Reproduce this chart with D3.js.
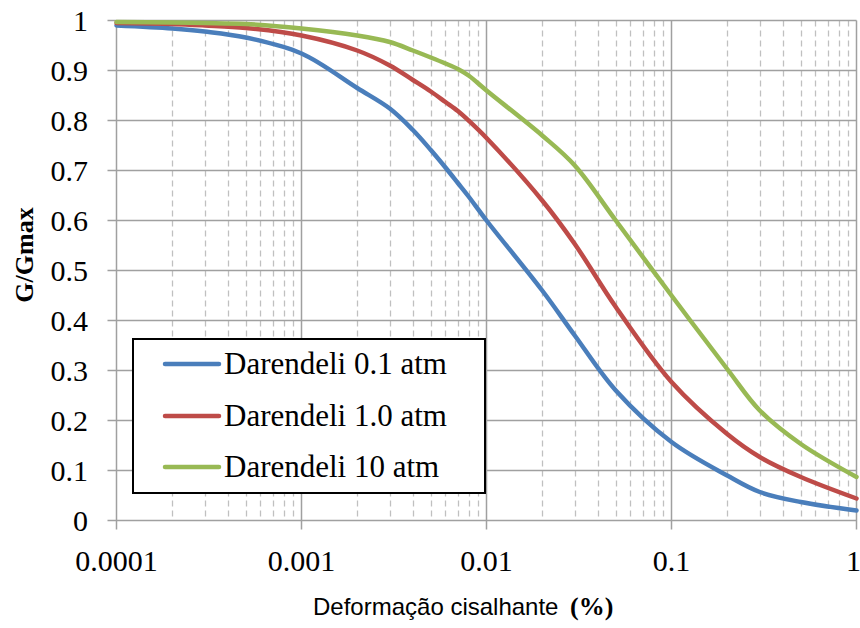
<!DOCTYPE html>
<html><head><meta charset="utf-8">
<script src="https://cdn.jsdelivr.net/npm/d3@7"></script>
<style>body{margin:0;background:#fff}</style>
</head><body>
<svg id="c" width="860" height="628"></svg>
<script>
const strain = [0.0001,0.0002,0.0003,0.0005,0.001,0.002,0.003,0.004,0.005,0.006,0.007,0.008,0.01,0.02,0.03,0.05,0.1,0.2,0.3,0.5,1];
const darendeli01 = [0.99,0.984,0.978,0.966,0.934,0.865,0.824,0.781,0.741,0.706,0.675,0.648,0.6,0.46,0.37,0.26,0.157,0.09,0.057,0.037,0.02];
const darendeli10 = [0.995,0.993,0.99,0.985,0.97,0.94,0.91,0.881,0.858,0.837,0.819,0.80,0.765,0.64,0.553,0.427,0.277,0.173,0.127,0.087,0.044];
const darendeli100 = [0.997,0.996,0.995,0.993,0.984,0.97,0.957,0.94,0.926,0.914,0.903,0.89,0.86,0.77,0.71,0.6,0.45,0.303,0.22,0.153,0.087];
const seriesNames = ["Darendeli 0.1 atm","Darendeli 1.0 atm","Darendeli 10 atm"];
const seriesValues = [darendeli01, darendeli10, darendeli100];
const seriesColors = ["#4a7ebb","#be4b48","#98b954"];
const xTicks = [0.0001,0.001,0.01,0.1,1];
const xTickLabels = ["0.0001","0.001","0.01","0.1","1"];
const yTicks = [0,0.1,0.2,0.3,0.4,0.5,0.6,0.7,0.8,0.9,1];
const yTickLabels = ["0","0.1","0.2","0.3","0.4","0.5","0.6","0.7","0.8","0.9","1"];

const svg = d3.select("#c");
const L=116.5, R=856.5, T=20.5, B=520.5;
const x = d3.scaleLog().domain([0.0001,1]).range([L,R]);
const y = d3.scaleLinear().domain([0,1]).range([B,T]);

// minor dashed vertical gridlines
const minors = [];
for (let d=-4; d<0; d++) for (let k=2;k<=9;k++) minors.push(k*Math.pow(10,d));
svg.append("g").selectAll("line").data(minors).join("line")
  .attr("x1",d=>Math.round(x(d))+0.5).attr("x2",d=>Math.round(x(d))+0.5)
  .attr("y1",T).attr("y2",B)
  .attr("stroke","#c0c0c0").attr("stroke-width",1.3).attr("stroke-dasharray","6,4");

// horizontal gridlines (with tick extension to the left)
svg.append("g").selectAll("line").data(yTicks).join("line")
  .attr("x1",L-9).attr("x2",R)
  .attr("y1",d=>y(d)).attr("y2",d=>y(d))
  .attr("stroke","#a0a0a0").attr("stroke-width",1.5);

// major vertical gridlines (with tick extension downward)
svg.append("g").selectAll("line").data(xTicks).join("line")
  .attr("x1",d=>x(d)).attr("x2",d=>x(d))
  .attr("y1",T).attr("y2",B+9)
  .attr("stroke","#a0a0a0").attr("stroke-width",1.5);

// tick labels
svg.append("g").selectAll("text").data(yTicks).join("text")
  .attr("x",88).attr("y",d=>y(d)).attr("dy","0.35em")
  .attr("text-anchor","end")
  .attr("font-family","Liberation Serif, Times New Roman, serif").attr("font-size",30)
  .text((d,i)=>yTickLabels[i]);
svg.append("g").selectAll("text").data(xTicks).join("text")
  .attr("x",(d,i)=>i===xTicks.length-1 ? x(d)-3 : x(d)).attr("y",571)
  .attr("text-anchor","middle")
  .attr("font-family","Liberation Serif, Times New Roman, serif").attr("font-size",30)
  .text((d,i)=>xTickLabels[i]);

// lines
const line = d3.line().x(d=>x(d[0])).y(d=>y(d[1])).curve(d3.curveCatmullRom.alpha(0.5));
seriesValues.forEach((vals,i)=>{
  svg.append("path").datum(strain.map((s,j)=>[s,vals[j]]))
    .attr("d",line).attr("fill","none")
    .attr("stroke",seriesColors[i]).attr("stroke-width",4.5)
    .attr("stroke-linejoin","round").attr("stroke-linecap","round");
});

// legend
const lg = svg.append("g");
lg.append("rect").attr("x",133).attr("y",339).attr("width",352).attr("height",154)
  .attr("fill","#fff").attr("stroke","#000").attr("stroke-width",2);
const legY = [364,416,467];
seriesNames.forEach((n,i)=>{
  lg.append("line").attr("x1",165).attr("x2",219).attr("y1",legY[i]).attr("y2",legY[i])
    .attr("stroke",seriesColors[i]).attr("stroke-width",4.5).attr("stroke-linecap","round");
  lg.append("text").attr("x",224).attr("y",legY[i]+10)
    .attr("font-family","Liberation Serif, Times New Roman, serif").attr("font-size",31)
    .text(n);
});

// axis titles
svg.append("text").attr("transform","translate(33,255) rotate(-90)")
  .attr("text-anchor","middle")
  .attr("font-family","Liberation Serif, Times New Roman, serif").attr("font-weight","bold").attr("font-size",26)
  .text("G/Gmax");
const xt = svg.append("text").attr("x",313).attr("y",615);
xt.append("tspan").attr("font-family","Liberation Sans, Arial, sans-serif").attr("font-size",24).text("Deformação cisalhante");
xt.append("tspan").attr("x",570).attr("font-family","Liberation Serif, Times New Roman, serif").attr("font-weight","bold").attr("font-size",26).text("(%)");
</script>
</body></html>
